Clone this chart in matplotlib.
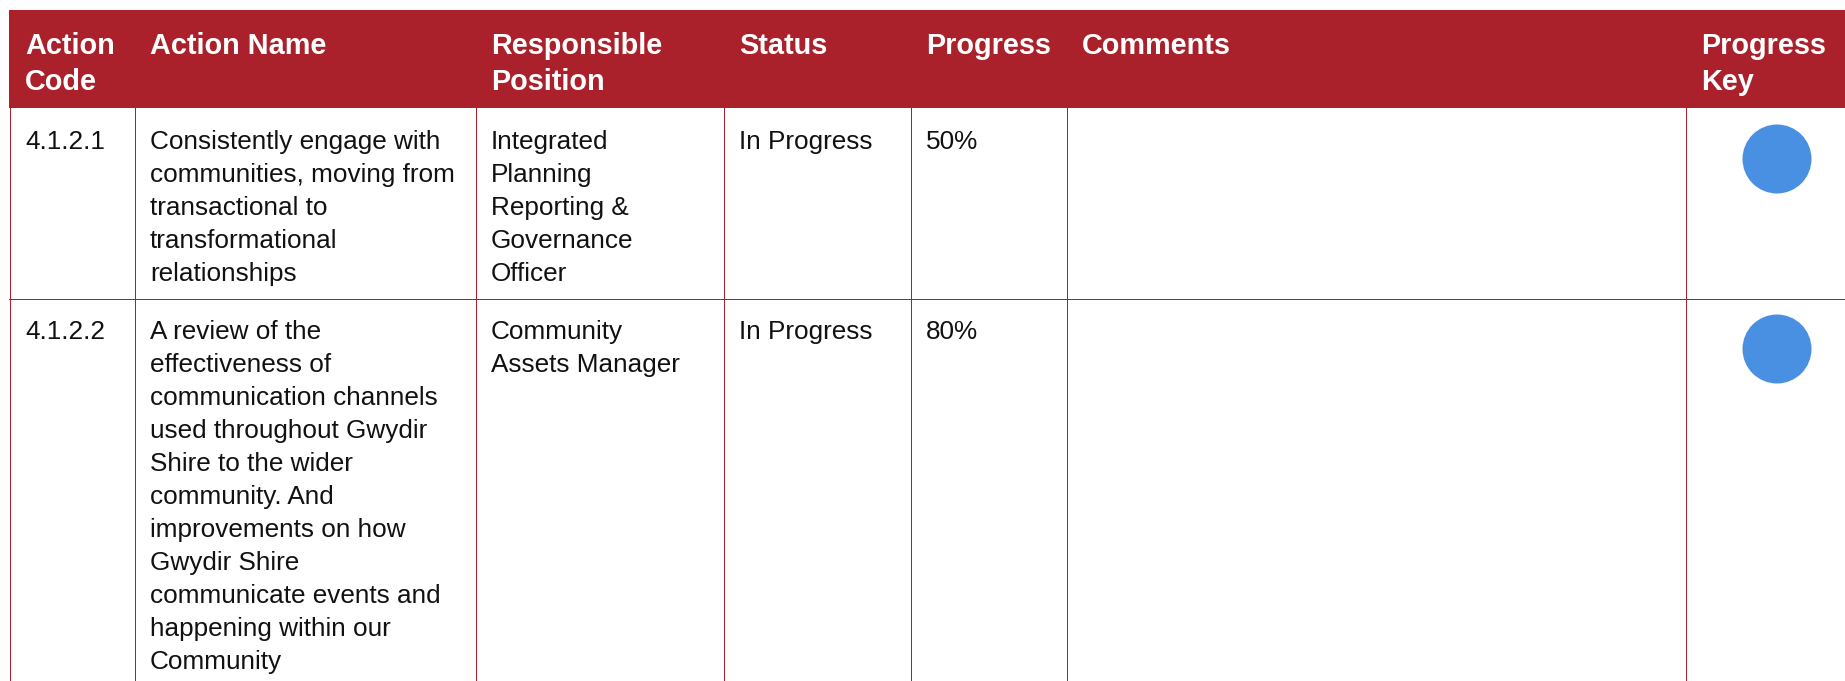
import matplotlib.pyplot as plt
from matplotlib.patches import Rectangle, Circle

# Table content
headers = ["Action\nCode", "Action Name", "Responsible\nPosition", "Status",
           "Progress", "Comments", "Progress\nKey"]
action_codes = ["4.1.2.1", "4.1.2.2"]
action_names = [
    "Consistently engage with\ncommunities, moving from\ntransactional to\ntransformational\nrelationships",
    "A review of the\neffectiveness of\ncommunication channels\nused throughout Gwydir\nShire to the wider\n"
    "community. And\nimprovements on how\nGwydir Shire\ncommunicate events and\nhappening within our\nCommunity",
]
responsible = ["Integrated\nPlanning\nReporting &\nGovernance\nOfficer", "Community\nAssets Manager"]
statuses = ["In Progress", "In Progress"]
progress = [50, 80]
comments = ["", ""]
key_colors = ["#4A90E2", "#4A90E2"]

# Layout (pixels)
W, H = 1845, 681
col_edges = [9, 134, 475, 723, 910, 1066, 1685, W + 2]
header_top, header_bot = 10, 108
row_edges = [108, 298, H + 2]
pad_x = 15
head_color = "#AA212B"
line_color = "#AE1F2A"
font = ["Liberation Sans", "DejaVu Sans"]

fig = plt.figure(figsize=(W / 100, H / 100), dpi=100)
ax = fig.add_axes([0, 0, 1, 1])
ax.set_xlim(0, W)
ax.set_ylim(H, 0)
ax.axis("off")

# Header band
ax.add_patch(Rectangle((col_edges[0], header_top), col_edges[-1] - col_edges[0],
                       header_bot - header_top, color=head_color, lw=0))
for i, h in enumerate(headers):
    for j, line in enumerate(h.split("\n")):
        ax.text(col_edges[i] + pad_x + 1, header_top + 44 + j * 36, line,
                color="white", fontsize=20.8, fontweight="bold", family=font,
                va="baseline", ha="left")

# Grid lines, 1 px wide
for y in row_edges[1:-1]:
    ax.plot([col_edges[0], col_edges[-1]], [y + 0.5, y + 0.5], color=line_color, lw=0.72)
for x in col_edges[:-1]:
    ax.plot([x + 0.5, x + 0.5], [header_bot, H + 2], color=line_color, lw=0.72)

# Body rows
body_lh = 33
for r in range(len(action_codes)):
    top = row_edges[r]
    cells = [action_codes[r], action_names[r], responsible[r], statuses[r],
             f"{progress[r]}%", comments[r]]
    for c, txt in enumerate(cells):
        for j, line in enumerate(txt.split("\n")):
            ax.text(col_edges[c] + pad_x + 1, top + 41 + j * body_lh, line,
                    color="#111111", fontsize=18.8, family=font,
                    va="baseline", ha="left")
    ax.add_patch(Circle((col_edges[6] + 92, top + 51), 34.5, color=key_colors[r], lw=0))

fig.savefig("out.png", dpi=100)
